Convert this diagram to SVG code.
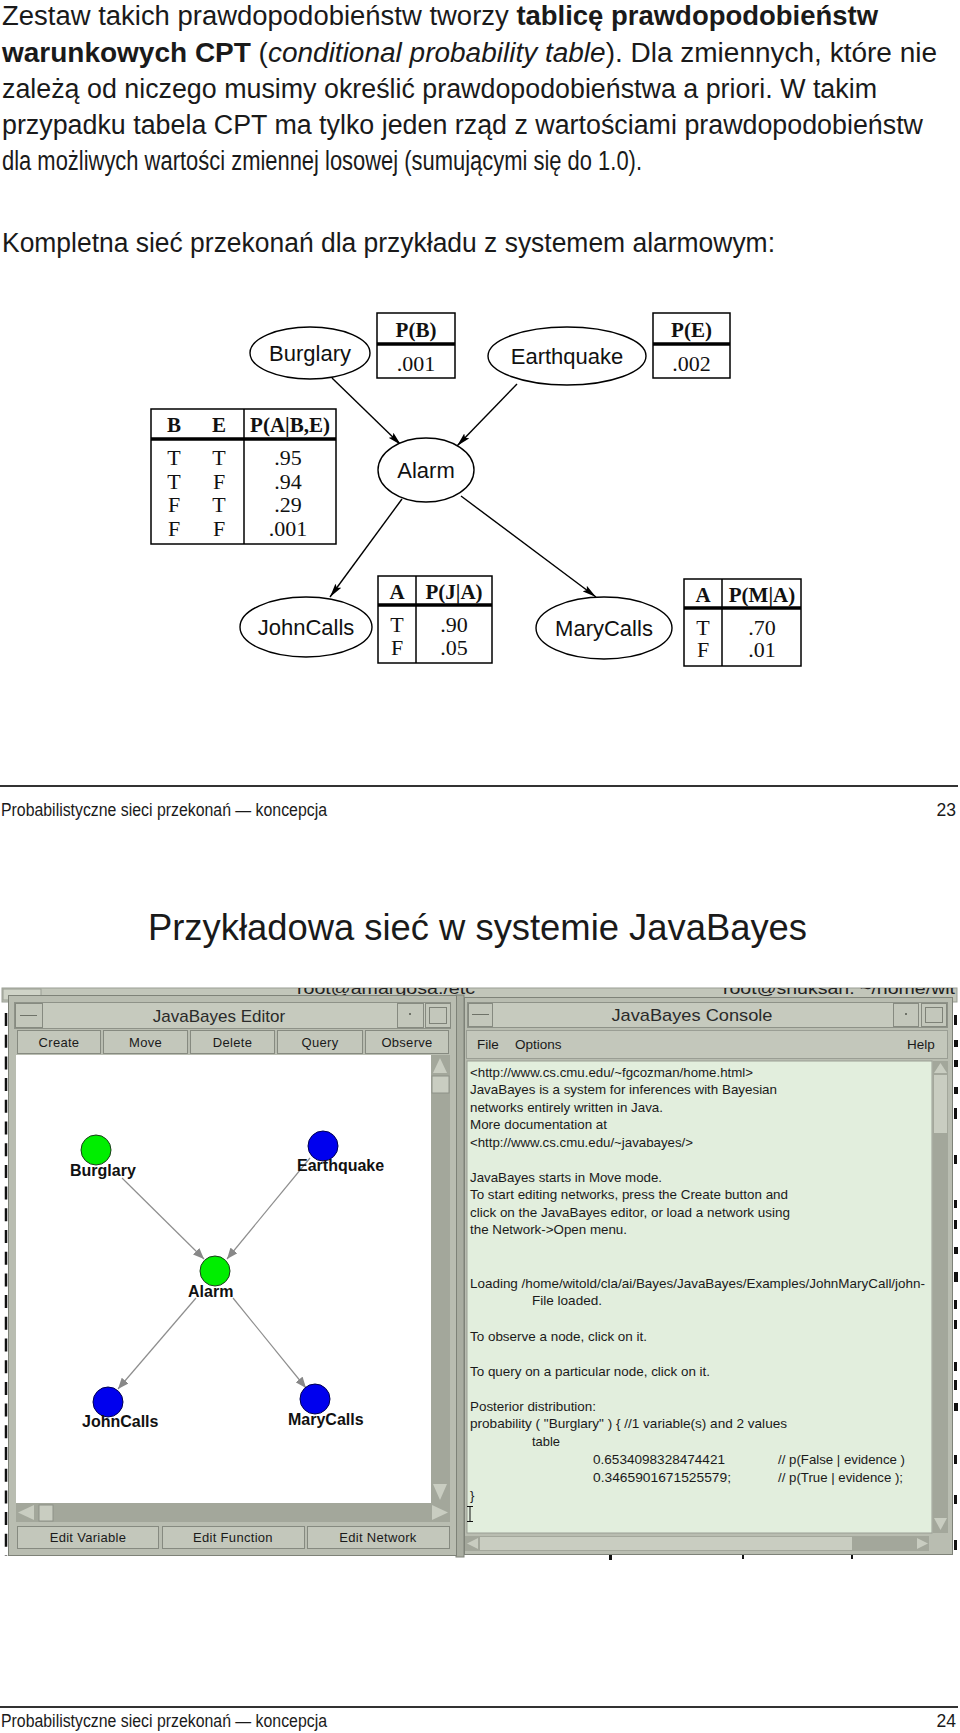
<svg xmlns="http://www.w3.org/2000/svg" width="960" height="1733" viewBox="0 0 960 1733">
<style>
.tx{font-family:"Liberation Sans",Arial,sans-serif;font-size:27px;fill:#1a1a1a}
.b{font-weight:bold}
.i{font-style:italic}
.foot{font-family:"Liberation Sans",Arial,sans-serif;font-size:17.5px;fill:#1a1a1a}
.ttl{font-family:"Liberation Sans",Arial,sans-serif;font-size:36px;fill:#1a1a1a}
.ell{fill:#fff;stroke:#000;stroke-width:1.4}
.nl{font-family:"Liberation Sans",Arial,sans-serif;font-size:22px;text-anchor:middle;fill:#111}
.tb{fill:#fff;stroke:#000;stroke-width:1.5}
.thk{stroke:#000;stroke-width:3.5}
.thn{stroke:#000;stroke-width:1.5}
.tt{font-family:"Liberation Serif","Times New Roman",serif;font-size:22px;text-anchor:middle;fill:#111}
.th{font-weight:bold;font-size:21px}
.edge{stroke:#000;stroke-width:1.4;fill:none;marker-end:url(#ah)}
.rule{stroke:#333;stroke-width:2}
.frame{fill:#b9bdb1;stroke:#7e8278}
.bar{fill:#c6cabe;stroke:#8e9288}
.btn{fill:#c3c7bb;stroke:#868a80}
.trk{fill:#a3a79b}
.arw{fill:#c9cdc1}
.wt{font-family:"Liberation Sans",Arial,sans-serif;font-size:17px;fill:#2a2a2a;text-anchor:middle}
.bl{font-family:"Liberation Sans",Arial,sans-serif;font-size:13px;fill:#1a1a1a;text-anchor:middle;letter-spacing:0.3px}
.ml{font-family:"Liberation Sans",Arial,sans-serif;font-size:13.5px;fill:#1a1a1a}
.ct{font-family:"Liberation Sans",Arial,sans-serif;font-size:13px;fill:#1a1a1a}
.jn{font-family:"Liberation Sans",Arial,sans-serif;font-size:16px;font-weight:bold;fill:#111}
.grn{fill:#00ee00;stroke:#1c3c1c;stroke-width:1}
.blu{fill:#0000ee;stroke:#000050;stroke-width:1}
.jedge{stroke:#8e8e8e;stroke-width:1.2;fill:none;marker-end:url(#gh)}
.term{font-family:"Liberation Sans",Arial,sans-serif;font-size:16px;fill:#222}
</style>
<defs>
<marker id="ah" viewBox="0 0 14 8" refX="14" refY="4" markerWidth="14" markerHeight="8" markerUnits="userSpaceOnUse" orient="auto"><path d="M0,0.5 L14,4 L0,7.5 L2.5,4 z" fill="#000"/></marker>
<marker id="gh" viewBox="0 0 11 9" refX="11" refY="4.5" markerWidth="11" markerHeight="9" markerUnits="userSpaceOnUse" orient="auto"><path d="M0,0 L11,4.5 L0,9 z" fill="#888"/></marker>
<clipPath id="topclip"><rect x="0" y="988" width="960" height="20"/></clipPath>
</defs>
<rect width="960" height="1733" fill="#fff"/>

<!-- Page 23 text -->
<g id="intro">
<text class="tx" x="2" y="25" textLength="876" lengthAdjust="spacingAndGlyphs">Zestaw takich prawdopodobieństw tworzy <tspan class="b">tablicę prawdopodobieństw</tspan></text>
<text class="tx" x="2" y="62" textLength="935" lengthAdjust="spacingAndGlyphs"><tspan class="b">warunkowych CPT</tspan> (<tspan class="i">conditional probability table</tspan>). Dla zmiennych, które nie</text>
<text class="tx" x="2" y="98" textLength="875" lengthAdjust="spacingAndGlyphs">zależą od niczego musimy określić prawdopodobieństwa a priori. W takim</text>
<text class="tx" x="2" y="134" textLength="921" lengthAdjust="spacingAndGlyphs">przypadku tabela CPT ma tylko jeden rząd z wartościami prawdopodobieństw</text>
<text class="tx" x="2" y="170" textLength="640" lengthAdjust="spacingAndGlyphs">dla możliwych wartości zmiennej losowej (sumującymi się do 1.0).</text>
<text class="tx" x="2" y="252" textLength="773" lengthAdjust="spacingAndGlyphs">Kompletna sieć przekonań dla przykładu z systemem alarmowym:</text>
</g>

<!-- Connectors -->
<g id="connectors">
<path class="edge" d="M332,378 L401,445"/>
<path class="edge" d="M517,384 L457,446"/>
<path class="edge" d="M402,499 L330,597"/>
<path class="edge" d="M461,496 L596,597"/>
</g>

<g id="burglary">
<ellipse class="ell" cx="310" cy="353" rx="60" ry="26"/>
<text class="nl" x="310" y="361">Burglary</text>
</g>
<g id="cpt-b">
<rect class="tb" x="377" y="313" width="78" height="65"/>
<line class="thk" x1="377" y1="344" x2="455" y2="344"/>
<text class="tt th" x="416" y="337">P(B)</text>
<text class="tt" x="416" y="371">.001</text>
</g>
<g id="earthquake">
<ellipse class="ell" cx="567" cy="356" rx="79" ry="29"/>
<text class="nl" x="567" y="364">Earthquake</text>
</g>
<g id="cpt-e">
<rect class="tb" x="653" y="313" width="77" height="65"/>
<line class="thk" x1="653" y1="344" x2="730" y2="344"/>
<text class="tt th" x="691.5" y="337">P(E)</text>
<text class="tt" x="691.5" y="371">.002</text>
</g>
<g id="cpt-a">
<rect class="tb" x="151" y="409" width="185" height="135"/>
<line class="thk" x1="151" y1="439" x2="336" y2="439"/>
<line class="thn" x1="244" y1="409" x2="244" y2="544"/>
<text class="tt th" x="174" y="432">B</text>
<text class="tt th" x="219" y="432">E</text>
<text class="tt th" x="290" y="432">P(A|B,E)</text>
<text class="tt" x="174" y="465">T</text><text class="tt" x="219" y="465">T</text><text class="tt" x="288" y="465">.95</text>
<text class="tt" x="174" y="489">T</text><text class="tt" x="219" y="489">F</text><text class="tt" x="288" y="489">.94</text>
<text class="tt" x="174" y="512">F</text><text class="tt" x="219" y="512">T</text><text class="tt" x="288" y="512">.29</text>
<text class="tt" x="174" y="536">F</text><text class="tt" x="219" y="536">F</text><text class="tt" x="288" y="536">.001</text>
</g>
<g id="alarm">
<ellipse class="ell" cx="426" cy="470" rx="48" ry="32"/>
<text class="nl" x="426" y="478">Alarm</text>
</g>
<g id="johncalls">
<ellipse class="ell" cx="306" cy="627" rx="66" ry="30"/>
<text class="nl" x="306" y="635">JohnCalls</text>
</g>
<g id="cpt-j">
<rect class="tb" x="378" y="576" width="114" height="87"/>
<line class="thk" x1="378" y1="605" x2="492" y2="605"/>
<line class="thn" x1="416" y1="576" x2="416" y2="663"/>
<text class="tt th" x="397" y="599">A</text>
<text class="tt th" x="454" y="599">P(J|A)</text>
<text class="tt" x="397" y="632">T</text><text class="tt" x="454" y="632">.90</text>
<text class="tt" x="397" y="655">F</text><text class="tt" x="454" y="655">.05</text>
</g>
<g id="marycalls">
<ellipse class="ell" cx="604" cy="628" rx="68" ry="31"/>
<text class="nl" x="604" y="636">MaryCalls</text>
</g>
<g id="cpt-m">
<rect class="tb" x="684" y="579" width="117" height="87"/>
<line class="thk" x1="684" y1="608" x2="801" y2="608"/>
<line class="thn" x1="722" y1="579" x2="722" y2="666"/>
<text class="tt th" x="703" y="602">A</text>
<text class="tt th" x="762" y="602">P(M|A)</text>
<text class="tt" x="703" y="635">T</text><text class="tt" x="762" y="635">.70</text>
<text class="tt" x="703" y="657">F</text><text class="tt" x="762" y="657">.01</text>
</g>

<!-- footer 23 -->
<g id="footer23">
<line class="rule" x1="0" y1="786" x2="958" y2="786"/>
<text class="foot" x="1" y="816" textLength="326" lengthAdjust="spacingAndGlyphs">Probabilistyczne sieci przekonań — koncepcja</text>
<text class="foot" x="956" y="816" text-anchor="end">23</text>
</g>

<!-- Page 24 -->
<text class="ttl" x="148" y="940" textLength="659" lengthAdjust="spacingAndGlyphs">Przykładowa sieć w systemie JavaBayes</text>

<g id="screenshot">
<!-- background terminals -->
<rect x="2" y="988" width="955" height="14" fill="#c2c6ba" stroke="#9a9e94"/>
<rect x="3" y="989" width="38" height="11" fill="#cfd3c7" stroke="#9a9e94"/>
<g clip-path="url(#topclip)">
<text class="term" x="297" y="993.5" textLength="178" lengthAdjust="spacingAndGlyphs">root@amargosa:/etc</text>
<text class="term" x="723" y="993.5" textLength="232" lengthAdjust="spacingAndGlyphs">root@snuksan: ~/home/wit</text>
</g>
<line x1="6" y1="1013" x2="6" y2="1556" stroke="#111" stroke-width="2.5" stroke-dasharray="13 8.7"/>
<rect x="456" y="995" width="8" height="562" fill="#a9ada1" stroke="#7e8278"/>
<g fill="#111">
<rect x="954" y="1015" width="3" height="10"/><rect x="954" y="1040" width="4" height="7"/><rect x="954" y="1060" width="4" height="7"/>
<rect x="954" y="1087" width="4" height="7"/><rect x="954" y="1108" width="3" height="11"/><rect x="954" y="1155" width="3" height="9"/>
<rect x="954" y="1200" width="3" height="8"/><rect x="954" y="1220" width="3" height="9"/><rect x="954" y="1247" width="4" height="7"/>
<rect x="954" y="1272" width="4" height="10"/><rect x="954" y="1300" width="3" height="9"/><rect x="954" y="1320" width="3" height="9"/>
<rect x="954" y="1362" width="3" height="9"/><rect x="954" y="1380" width="3" height="10"/><rect x="954" y="1403" width="4" height="8"/>
<rect x="954" y="1455" width="3" height="9"/><rect x="954" y="1495" width="3" height="9"/><rect x="954" y="1540" width="3" height="10"/>
<rect x="609" y="1554" width="3" height="6"/><rect x="742" y="1554" width="2" height="5"/><rect x="851" y="1554" width="2" height="5"/>
</g>

<!-- Editor window -->
<g id="editor">
<rect class="frame" x="8.5" y="995.5" width="448" height="560"/>
<rect class="bar" x="14.5" y="1002.5" width="436" height="26"/>
<rect class="btn" x="15.5" y="1003.5" width="27" height="24"/>
<line x1="20" y1="1015.5" x2="37" y2="1015.5" stroke="#6e7268"/>
<text class="wt" x="219" y="1022">JavaBayes Editor</text>
<rect class="btn" x="397.5" y="1003.5" width="26" height="24"/>
<rect x="409" y="1013" width="2" height="2" fill="#6e7268"/>
<rect class="btn" x="425.5" y="1003.5" width="25" height="24"/>
<rect x="429.5" y="1007.5" width="17" height="16" fill="none" stroke="#7e8278"/>
<rect class="btn" x="17.5" y="1030.5" width="83" height="23"/>
<rect class="btn" x="103.5" y="1030.5" width="84" height="23"/>
<rect class="btn" x="190.5" y="1030.5" width="84" height="23"/>
<rect class="btn" x="277.5" y="1030.5" width="85" height="23"/>
<rect class="btn" x="365.5" y="1030.5" width="83" height="23"/>
<text class="bl" x="59" y="1047">Create</text>
<text class="bl" x="145.5" y="1047">Move</text>
<text class="bl" x="232.5" y="1047">Delete</text>
<text class="bl" x="320" y="1047">Query</text>
<text class="bl" x="407" y="1047">Observe</text>
<rect x="16" y="1055" width="415" height="448" fill="#fff"/>
<rect class="trk" x="431" y="1055" width="19" height="448"/>
<path class="arw" d="M433,1073 L447,1073 L440,1058 z"/>
<rect class="arw" x="432" y="1076" width="17" height="17" stroke="#8e9288"/>
<path class="arw" d="M433,1484 L447,1484 L440,1500 z"/>
<rect class="trk" x="16" y="1503" width="434" height="19"/>
<path class="arw" d="M34,1505 L34,1520 L18,1512.5 z"/>
<rect class="arw" x="39" y="1505" width="14" height="16" stroke="#8e9288"/>
<path class="arw" d="M432,1505 L432,1520 L448,1512.5 z"/>
<rect class="btn" x="17.5" y="1526.5" width="141" height="22"/>
<rect class="btn" x="162.5" y="1526.5" width="142" height="22"/>
<rect class="btn" x="307.5" y="1526.5" width="142" height="22"/>
<text class="bl" x="88" y="1542">Edit Variable</text>
<text class="bl" x="233" y="1542">Edit Function</text>
<text class="bl" x="378" y="1542">Edit Network</text>
</g>

<!-- Editor network -->
<g id="jb-connectors">
<path class="jedge" d="M122,1178 L204,1259"/>
<path class="jedge" d="M310,1158 L227,1259"/>
<path class="jedge" d="M196,1298 L118,1389"/>
<path class="jedge" d="M233,1298 L306,1388"/>
</g>
<g id="jb-burglary"><circle class="grn" cx="96" cy="1150" r="15"/><text class="jn" x="70" y="1176">Burglary</text></g>
<g id="jb-earthquake"><circle class="blu" cx="323" cy="1146" r="15"/><text class="jn" x="297" y="1171">Earthquake</text></g>
<g id="jb-alarm"><circle class="grn" cx="215" cy="1271" r="15"/><text class="jn" x="188" y="1297">Alarm</text></g>
<g id="jb-johncalls"><circle class="blu" cx="108" cy="1402" r="15"/><text class="jn" x="82" y="1427">JohnCalls</text></g>
<g id="jb-marycalls"><circle class="blu" cx="315" cy="1399" r="15"/><text class="jn" x="288" y="1425">MaryCalls</text></g>

<!-- Console window -->
<g id="console">
<rect class="frame" x="464.5" y="997.5" width="488" height="557"/>
<rect class="bar" x="467.5" y="1002.5" width="480" height="25"/>
<rect class="btn" x="468.5" y="1003.5" width="24" height="23"/>
<line x1="472" y1="1014.5" x2="489" y2="1014.5" stroke="#6e7268"/>
<text class="wt" x="692" y="1021" textLength="161" lengthAdjust="spacingAndGlyphs">JavaBayes Console</text>
<rect class="btn" x="893.5" y="1003.5" width="25" height="23"/>
<rect x="905" y="1013" width="2" height="2" fill="#6e7268"/>
<rect class="btn" x="921.5" y="1003.5" width="25" height="23"/>
<rect x="925.5" y="1007.5" width="17" height="15" fill="none" stroke="#7e8278"/>
<rect x="466.5" y="1030.5" width="481" height="28" fill="#c3c7bb" stroke="#9a9e94"/>
<text class="ml" x="477" y="1049">File</text>
<text class="ml" x="515" y="1049">Options</text>
<text class="ml" x="907" y="1049">Help</text>
<rect x="467" y="1061" width="465" height="472" fill="#e2eedd" stroke="#9a9e94"/>
<rect class="trk" x="933" y="1061" width="15" height="472"/>
<path class="arw" d="M934,1073 L947,1073 L940.5,1063 z"/>
<rect class="arw" x="934" y="1075" width="13" height="58"/>
<path class="arw" d="M934,1518 L947,1518 L940.5,1530 z"/>
<rect class="trk" x="465" y="1536" width="464" height="15"/>
<path class="arw" d="M478,1538 L478,1549 L467,1543.5 z"/>
<rect class="arw" x="480" y="1537" width="372" height="13"/>
<path class="arw" d="M917,1538 L917,1549 L928,1543.5 z"/>
<rect x="931" y="1535" width="16" height="16" fill="#b9bdb1"/>
<text class="ct" x="470" y="1077" textLength="283" lengthAdjust="spacingAndGlyphs">&lt;http://www.cs.cmu.edu/~fgcozman/home.html&gt;</text>
<text class="ct" x="470" y="1094" textLength="307" lengthAdjust="spacingAndGlyphs">JavaBayes is a system for inferences with Bayesian</text>
<text class="ct" x="470" y="1112" textLength="193" lengthAdjust="spacingAndGlyphs">networks entirely written in Java.</text>
<text class="ct" x="470" y="1129" textLength="137" lengthAdjust="spacingAndGlyphs">More documentation at</text>
<text class="ct" x="470" y="1147" textLength="223" lengthAdjust="spacingAndGlyphs">&lt;http://www.cs.cmu.edu/~javabayes/&gt;</text>
<text class="ct" x="470" y="1182" textLength="192" lengthAdjust="spacingAndGlyphs">JavaBayes starts in Move mode.</text>
<text class="ct" x="470" y="1199" textLength="318" lengthAdjust="spacingAndGlyphs">To start editing networks, press the Create button and</text>
<text class="ct" x="470" y="1217" textLength="320" lengthAdjust="spacingAndGlyphs">click on the JavaBayes editor, or load a network using</text>
<text class="ct" x="470" y="1234" textLength="157" lengthAdjust="spacingAndGlyphs">the Network-&gt;Open menu.</text>
<text class="ct" x="470" y="1288" textLength="455" lengthAdjust="spacingAndGlyphs">Loading /home/witold/cla/ai/Bayes/JavaBayes/Examples/JohnMaryCall/john-</text>
<text class="ct" x="532" y="1305" textLength="70" lengthAdjust="spacingAndGlyphs">File loaded.</text>
<text class="ct" x="470" y="1341" textLength="177" lengthAdjust="spacingAndGlyphs">To observe a node, click on it.</text>
<text class="ct" x="470" y="1376" textLength="240" lengthAdjust="spacingAndGlyphs">To query on a particular node, click on it.</text>
<text class="ct" x="470" y="1411" textLength="126" lengthAdjust="spacingAndGlyphs">Posterior distribution:</text>
<text class="ct" x="470" y="1428" textLength="317" lengthAdjust="spacingAndGlyphs">probability ( "Burglary" ) { //1 variable(s) and 2 values</text>
<text class="ct" x="532" y="1446" textLength="28" lengthAdjust="spacingAndGlyphs">table</text>
<text class="ct" x="593" y="1464" textLength="132" lengthAdjust="spacingAndGlyphs">0.6534098328474421</text>
<text class="ct" x="778" y="1464" textLength="127" lengthAdjust="spacingAndGlyphs">// p(False | evidence )</text>
<text class="ct" x="593" y="1482" textLength="138" lengthAdjust="spacingAndGlyphs">0.3465901671525579;</text>
<text class="ct" x="778" y="1482" textLength="125" lengthAdjust="spacingAndGlyphs">// p(True | evidence );</text>
<text class="ct" x="470" y="1500">}</text>
<path d="M467,1506.5 h6 M470,1506.5 v15 M467,1521.5 h6" stroke="#111" fill="none"/>
</g>
</g>

<!-- footer 24 -->
<g id="footer24">
<line class="rule" x1="0" y1="1707" x2="958" y2="1707"/>
<text class="foot" x="1" y="1727" textLength="326" lengthAdjust="spacingAndGlyphs">Probabilistyczne sieci przekonań — koncepcja</text>
<text class="foot" x="956" y="1727" text-anchor="end">24</text>
</g>
</svg>
